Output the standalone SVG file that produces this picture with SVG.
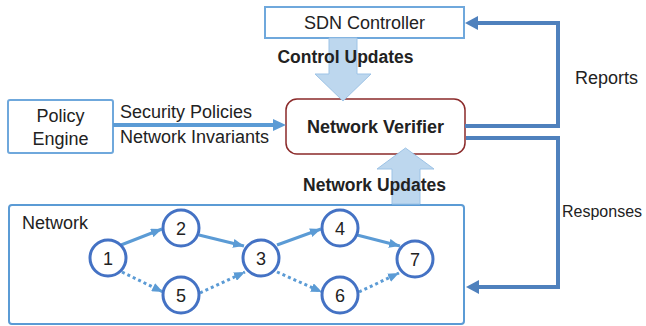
<svg xmlns="http://www.w3.org/2000/svg" width="646" height="326" viewBox="0 0 646 326">
  <defs>
    <style>
      .lbl { font-family: "Liberation Sans", Arial, sans-serif; font-size: 18px; fill: #222; }
      .bold { font-family: "Liberation Sans", Arial, sans-serif; font-size: 17.5px; font-weight: bold; fill: #222; }
      .box { fill: #fff; stroke: #6FA8DC; stroke-width: 2; }
      .block { fill: #BDD7EE; stroke: #9DC3E6; stroke-width: 1; }
      .feed { fill: none; stroke: #4F81BD; stroke-width: 4; }
      .edge { fill: none; stroke: #5B9BD5; stroke-width: 3; }
      .dot { stroke-dasharray: 3 3; }
      .node circle { fill: #fff; stroke: #4472C4; stroke-width: 3; }
      .node text { font-family: "Liberation Sans", Arial, sans-serif; font-size: 18px; fill: #222; text-anchor: middle; }
    </style>
    <marker id="ah" markerUnits="userSpaceOnUse" markerWidth="11" markerHeight="9" refX="11" refY="4.5" orient="auto">
      <path d="M0,0 L11,4.5 L0,9 z" fill="#5B9BD5"/>
    </marker>
  </defs>

  <g id="sdn-controller">
    <rect class="box" x="265" y="7" width="199" height="31"/>
    <text class="lbl" x="364.5" y="29" text-anchor="middle">SDN Controller</text>
  </g>

  <g id="policy-engine">
    <rect class="box" x="8" y="100" width="105" height="53" rx="2"/>
    <text class="lbl" x="60.5" y="122" text-anchor="middle">Policy</text>
    <text class="lbl" x="60.5" y="145" text-anchor="middle">Engine</text>
  </g>

  <g id="network-verifier">
    <rect x="286" y="99" width="179" height="55" rx="11" fill="#fff" stroke="#8B2A2A" stroke-width="1.5"/>
    <text class="bold" x="375.5" y="133" text-anchor="middle" style="font-size:18px">Network Verifier</text>
  </g>

  <g id="network">
    <rect x="9" y="205" width="455" height="119" rx="3" fill="#fff" stroke="#5B9BD5" stroke-width="2"/>
    <text class="lbl" x="22" y="229">Network</text>
  </g>

  <g id="connectors">
    <!-- block arrows -->
    <polygon class="block" points="329,38 357,38 357,74 371,74 343,101 315,74 329,74"/>
    <text class="bold" x="345.5" y="63" text-anchor="middle">Control Updates</text>
    <polygon class="block" points="392,204 420,204 420,169 434,169 405.5,148 377,169 392,169"/>
    <text class="bold" x="374.5" y="191" text-anchor="middle">Network Updates</text>

    <!-- policy arrow -->
    <line x1="113" y1="125" x2="274" y2="125" stroke="#5B9BD5" stroke-width="4"/>
    <polygon points="286,125 273,119 273,131" fill="#5B9BD5"/>
    <text class="lbl" x="120" y="118">Security Policies</text>
    <text class="lbl" x="120" y="143">Network Invariants</text>

    <!-- reports -->
    <polyline class="feed" points="465,126 558,126 558,23 476,23"/>
    <polygon points="465,23 478,16 478,30" fill="#4F81BD"/>
    <text class="lbl" x="575" y="84">Reports</text>

    <!-- responses -->
    <polyline class="feed" points="466,138 558,138 558,287 477,287"/>
    <polygon points="466,287 479,280 479,294" fill="#4F81BD"/>
    <text class="lbl" x="562" y="217" style="font-size:16px">Responses</text>

    <!-- network edges -->
    <line class="edge" x1="121" y1="245" x2="162" y2="229" marker-end="url(#ah)"/>
    <line class="edge" x1="199" y1="235" x2="244" y2="246" marker-end="url(#ah)"/>
    <line class="edge" x1="277" y1="245" x2="321" y2="229" marker-end="url(#ah)"/>
    <line class="edge" x1="357" y1="235" x2="400" y2="246" marker-end="url(#ah)"/>
    <line class="edge dot" x1="122" y1="272" x2="163" y2="292" marker-end="url(#ah)"/>
    <line class="edge dot" x1="200" y1="293" x2="245" y2="272" marker-end="url(#ah)"/>
    <line class="edge dot" x1="277" y1="272" x2="322" y2="292" marker-end="url(#ah)"/>
    <line class="edge dot" x1="359" y1="292" x2="399" y2="273" marker-end="url(#ah)"/>
  </g>

  <g id="node-1" class="node"><circle cx="108" cy="258" r="18"/><text x="108" y="264.5">1</text></g>
  <g id="node-2" class="node"><circle cx="181" cy="228" r="18"/><text x="181" y="234.5">2</text></g>
  <g id="node-3" class="node"><circle cx="261" cy="258" r="18"/><text x="261" y="264.5">3</text></g>
  <g id="node-4" class="node"><circle cx="340" cy="228" r="18"/><text x="340" y="234.5">4</text></g>
  <g id="node-5" class="node"><circle cx="181" cy="295" r="18"/><text x="181" y="301.5">5</text></g>
  <g id="node-6" class="node"><circle cx="340" cy="295" r="18"/><text x="340" y="301.5">6</text></g>
  <g id="node-7" class="node"><circle cx="415" cy="259" r="18"/><text x="415" y="265.5">7</text></g>
</svg>
